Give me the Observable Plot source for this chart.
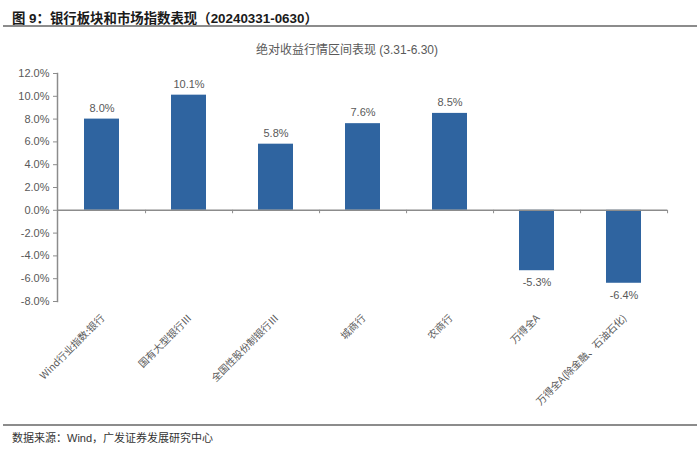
<!DOCTYPE html>
<html>
<head>
<meta charset="utf-8">
<script src="https://cdn.jsdelivr.net/npm/d3@7"></script>
<script src="https://cdn.jsdelivr.net/npm/@observablehq/plot@0.6"></script>
<style>
  html, body { margin: 0; padding: 0; background: #fff; }
  #wrap { position: relative; width: 700px; height: 453px; overflow: hidden; font-family: "Liberation Sans", "Noto Sans CJK SC", sans-serif; }
  #title { position: absolute; left: 12px; top: 7px; font-size: 13.4px; font-weight: bold; color: #1a1a1a; font-family: "Liberation Sans", "Noto Sans CJK SC", sans-serif; white-space: nowrap; }
  #topline { position: absolute; left: 3px; width: 694px; top: 25px; height: 2px; background: #8c8c8c; }
  #subtitle { position: absolute; left: 0; width: 694px; top: 40px; text-align: center; font-size: 12px; color: #595959; }
  #botline { position: absolute; left: 3px; width: 694px; top: 424px; height: 1.5px; background: #8c8c8c; }
  #source { position: absolute; left: 12px; top: 429px; font-size: 11px; color: #333; white-space: nowrap; }
  #chart { position: absolute; left: 0; top: 0; }
</style>
</head>
<body>
<div id="wrap">
  <div id="chart"></div>
  <div id="title">图 9：银行板块和市场指数表现（20240331-0630）</div>
  <div id="topline"></div>
  <div id="subtitle">绝对收益行情区间表现 (3.31-6.30)</div>
  <div id="botline"></div>
  <div id="source">数据来源：Wind，广发证券发展研究中心</div>
</div>
<script>
const categories = ["Wind行业指数:银行", "国有大型银行Ⅲ", "全国性股份制银行Ⅲ", "城商行", "农商行", "万得全A", "万得全A(除金融、石油石化)"];
const values = [0.080, 0.101, 0.058, 0.076, 0.085, -0.053, -0.064];
const yTicks = [-0.08, -0.06, -0.04, -0.02, 0, 0.02, 0.04, 0.06, 0.08, 0.10, 0.12];

const data = categories.map((c, i) => ({cat: c, val: values[i]}));
const fmt = d3.formatLocale({decimal: ".", thousands: ",", grouping: [3], currency: ["", ""], minus: "-"}).format(".1%");
const grey = "#8c8c8c";
const textGrey = "#595959";

const W = 700, H = 453, mL = 57, mR = 33, mT = 73, mB = 152;
const step = (W - mL - mR) / categories.length;

const chart = Plot.plot({
  width: W,
  height: H,
  marginLeft: mL,
  marginRight: mR,
  marginTop: mT,
  marginBottom: mB,
  style: {fontFamily: "Liberation Sans, Noto Sans CJK SC, sans-serif", fontSize: "11px", color: textGrey, background: "transparent"},
  x: {domain: categories, paddingInner: 0.6, paddingOuter: 0.3, axis: null},
  y: {domain: [-0.08, 0.12], ticks: yTicks, axis: null},
  marks: [
    Plot.frame({anchor: "left", stroke: grey, strokeWidth: 1.5}),
    Plot.axisY({ticks: yTicks, tickFormat: fmt, tickSize: 4, tickPadding: 4, stroke: grey, fill: textGrey, fontSize: 11, label: null}),
    Plot.barY(data, {x: "cat", y: "val", fill: "#2f64a0"}),
    Plot.ruleY([0], {stroke: grey, strokeWidth: 1.5}),
    Plot.ruleX(categories, {x: d => d, y1: 0, y2: -0.003, dx: step / 2, stroke: grey}),
    Plot.text(data.filter(d => d.val >= 0), {x: "cat", y: "val", text: d => fmt(d.val), dy: -11, fill: textGrey, fontSize: 11}),
    Plot.text(data.filter(d => d.val < 0), {x: "cat", y: "val", text: d => fmt(d.val), dy: 12, fill: textGrey, fontSize: 11}),
    Plot.text(data, {x: "cat", y: -0.08, text: "cat", rotate: -45, textAnchor: "end", dx: 1, dy: 15,
      fill: textGrey, fontSize: 10, fontFamily: "Noto Sans CJK SC, Liberation Sans, sans-serif"})
  ]
});
document.getElementById("chart").appendChild(chart);
</script>
</body>
</html>
